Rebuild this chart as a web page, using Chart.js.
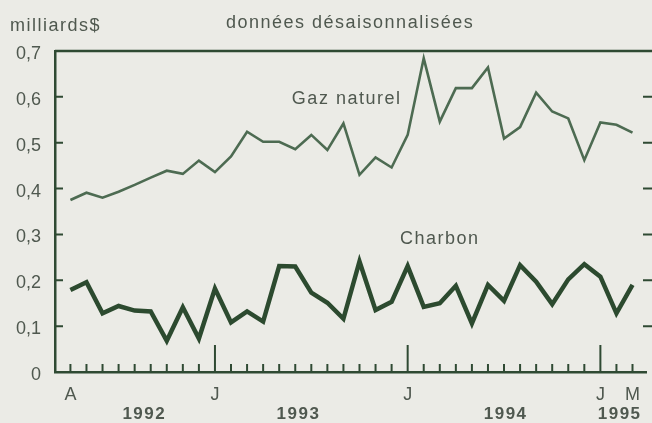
<!DOCTYPE html>
<html lang="fr">
<head>
<meta charset="utf-8" />
<script src="https://cdn.jsdelivr.net/npm/chart.js@4.4.1/dist/chart.umd.min.js"></script>
<style>
  html, body { margin: 0; padding: 0; background: #ebebe6; overflow: hidden; }
  canvas { display: block; }
</style>
<title>Gaz naturel et charbon</title>
</head>
<body>
<canvas id="graphe" width="652" height="423"></canvas>
<script>
// mois d'avril 1992 a mars 1995 (36 mois)
const moisIndex = [0, 9, 21, 33, 35];
const moisLabels = ["A", "J", "J", "J", "M"];
const annees = ["1992", "1993", "1994", "1995"];
const anneesPos = [4.6, 14.2, 27.1, 34.2];
const yTicks = [0, 0.1, 0.2, 0.3, 0.4, 0.5, 0.6, 0.7];

// milliards $
const gazNaturel = [0.375, 0.391, 0.380, 0.393, 0.408, 0.424, 0.439, 0.432, 0.461, 0.436,
  0.470, 0.524, 0.502, 0.502, 0.486, 0.517, 0.484, 0.542, 0.430, 0.468,
  0.446, 0.517, 0.684, 0.546, 0.619, 0.619, 0.664, 0.509, 0.534, 0.609,
  0.568, 0.553, 0.462, 0.544, 0.539, 0.522];
const charbon = [0.179, 0.196, 0.128, 0.144, 0.134, 0.132, 0.068, 0.141, 0.073, 0.182,
  0.108, 0.132, 0.110, 0.231, 0.230, 0.173, 0.151, 0.116, 0.241, 0.135,
  0.153, 0.231, 0.142, 0.150, 0.188, 0.106, 0.190, 0.155, 0.233, 0.197,
  0.148, 0.202, 0.235, 0.208, 0.128, 0.190];

const vert = "#2f4a33";
const texte = "#4f584f";
const police = "'Liberation Sans', Arial, sans-serif";

// fond, cadre, petites graduations et textes
const decor = {
  id: "decor",
  beforeInit(chart) {
    // le texte de l'original est un peu etire
    chart.ctx.letterSpacing = "1.5px";
  },
  beforeDraw(chart) {
    const c = chart.ctx;
    c.save();
    c.fillStyle = "#ebebe6";
    c.fillRect(0, 0, chart.width, chart.height);
    c.restore();
  },
  afterDraw(chart) {
    const c = chart.ctx;
    const a = chart.chartArea;
    const x = chart.scales.x;
    const y = chart.scales.y;
    c.save();
    c.strokeStyle = vert;
    c.lineWidth = 2.5;
    c.beginPath();
    c.moveTo(a.left, a.top);
    c.lineTo(chart.width, a.top);
    c.stroke();
    c.lineWidth = 2;
    // graduations mensuelles
    for (let i = 0; i < gazNaturel.length; i++) {
      const px = x.getPixelForValue(i);
      const haut = (i === 9 || i === 21 || i === 33) ? 27 : 8;
      c.beginPath();
      c.moveTo(px, a.bottom);
      c.lineTo(px, a.bottom - haut);
      c.stroke();
    }
    // graduations verticales gauche et droite
    yTicks.slice(1, 7).forEach(v => {
      const py = y.getPixelForValue(v);
      c.beginPath();
      c.moveTo(a.left, py);
      c.lineTo(a.left + 8, py);
      c.moveTo(chart.width, py);
      c.lineTo(chart.width - 9, py);
      c.stroke();
    });
    c.fillStyle = texte;
    c.letterSpacing = "1.5px";
    c.textBaseline = "middle";
    c.font = "18px " + police;
    c.textAlign = "left";
    c.fillText("milliards$", 10, 26);
    c.fillText("données désaisonnalisées", 226, 23);
    c.textAlign = "center";
    c.fillText("Gaz naturel", x.getPixelForValue(17.2), y.getPixelForValue(0.595));
    c.fillText("Charbon", x.getPixelForValue(23.0), y.getPixelForValue(0.29));
    c.font = "bold 17px " + police;
    annees.forEach((t, k) => {
      c.fillText(t, x.getPixelForValue(anneesPos[k]), 414);
    });
    c.restore();
  }
};

new Chart(document.getElementById("graphe"), {
  type: "line",
  data: {
    datasets: [
      {
        label: "Gaz naturel",
        data: gazNaturel.map((v, i) => ({ x: i, y: v })),
        borderColor: "#4d6b52",
        borderWidth: 2.6,
        pointRadius: 0,
        tension: 0
      },
      {
        label: "Charbon",
        data: charbon.map((v, i) => ({ x: i, y: v })),
        borderColor: "#2c4a2f",
        borderWidth: 4.5,
        pointRadius: 0,
        tension: 0
      }
    ]
  },
  options: {
    responsive: false,
    animation: false,
    layout: { padding: { top: 51, right: 0, bottom: 0, left: 0 } },
    plugins: {
      legend: { display: false },
      tooltip: { enabled: false }
    },
    scales: {
      x: {
        type: "linear",
        min: -0.96,
        max: 35.86,
        afterFit(s) { s.height = 51; },
        afterBuildTicks(s) { s.ticks = moisIndex.map(v => ({ value: v })); },
        grid: { drawOnChartArea: false, drawTicks: false },
        border: { display: true, color: vert, width: 2.5 },
        ticks: {
          autoSkip: false,
          maxRotation: 0,
          padding: 12,
          color: texte,
          font: { family: police, size: 18 },
          callback: (v, i) => moisLabels[i]
        }
      },
      y: {
        min: 0,
        max: 0.7,
        afterFit(s) { s.width = 55; },
        afterBuildTicks(s) { s.ticks = yTicks.map(v => ({ value: v })); },
        grid: { drawOnChartArea: false, drawTicks: false },
        border: { display: true, color: vert, width: 2.5 },
        ticks: {
          padding: 14,
          labelOffset: 3,
          color: texte,
          font: { family: police, size: 18 },
          callback: v => v === 0 ? "0" : v.toFixed(1).replace(".", ",")
        }
      }
    }
  },
  plugins: [decor]
});
</script>
</body>
</html>
